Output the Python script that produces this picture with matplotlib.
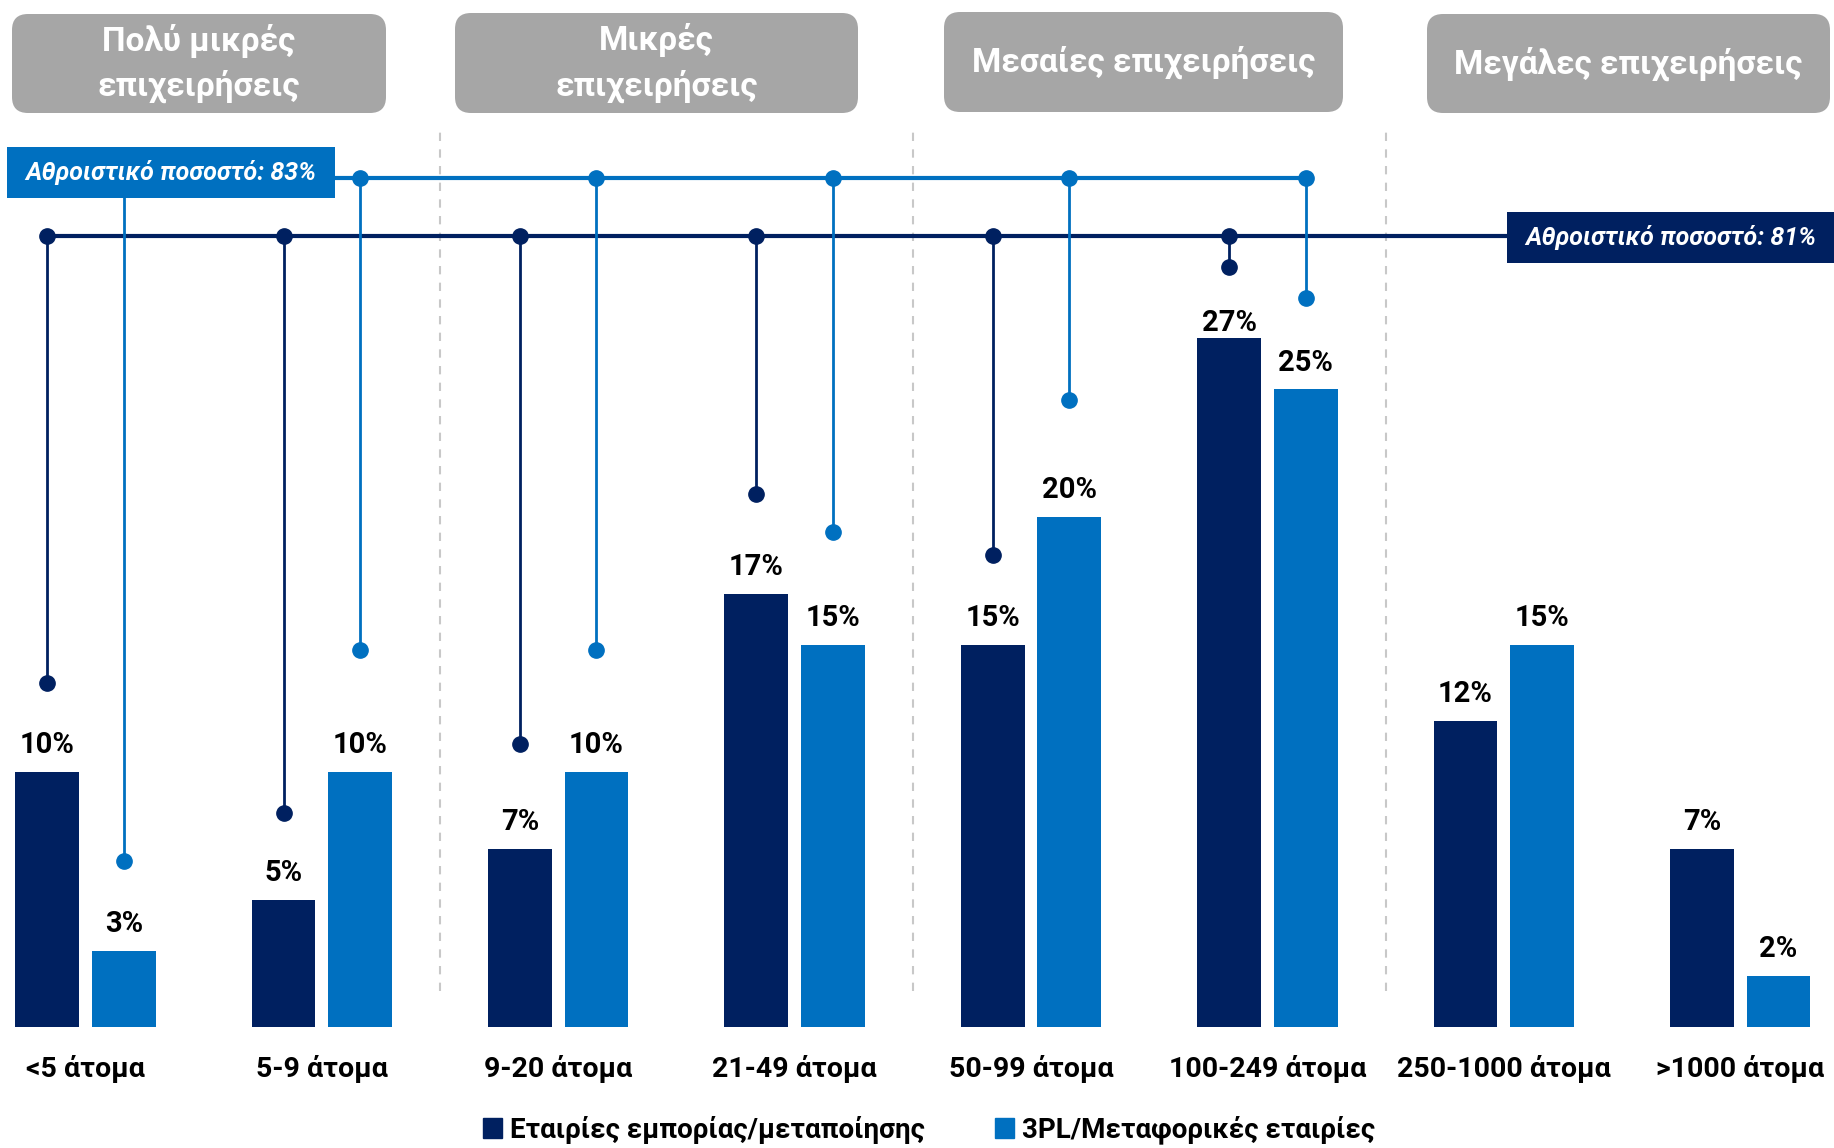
import numpy as np
import matplotlib.pyplot as plt
from matplotlib.patches import FancyBboxPatch, Rectangle

plt.rcParams['font.family'] = ['Roboto', 'DejaVu Sans']

# Company size groups and shares per company type (%)
categories = ['<5 άτομα', '5-9 άτομα', '9-20 άτομα', '21-49 άτομα',
              '50-99 άτομα', '100-249 άτομα', '250-1000 άτομα', '>1000 άτομα']
trade = [10, 5, 7, 17, 15, 27, 12, 7]
logistics = [3, 10, 10, 15, 20, 25, 15, 2]
series_names = ['Εταιρίες εμπορίας/μεταποίησης', '3PL/Μεταφορικές εταιρίες']

# lollipop heads for the groups that make up the cumulative share
trade_heads = [13.5, 8.4, 11.1, 20.9, 18.5, 29.8]
logistics_heads = [6.5, 14.8, 14.8, 19.4, 24.6, 28.6]
trade_rail = 31.0
logistics_rail = 33.3

segments = ['Πολύ μικρές\nεπιχειρήσεις', 'Μικρές\nεπιχειρήσεις',
            'Μεσαίες επιχειρήσεις', 'Μεγάλες επιχειρήσεις']

NAVY = '#002060'
BLUE = '#0070C0'
GREY = '#A6A6A6'

W, H = 1834, 1148
step = 236.4      # px between group centres
unit = 25.5       # px per percentage point
x0 = 85.4         # px of the first group centre
base = 1027       # px (from top) of the bar baseline

fig = plt.figure(figsize=(W / 100, H / 100), dpi=100)
ax = fig.add_axes([0, (H - base) / H, 1, base / H])
ax.set_xlim(-x0 / step, (W - x0) / step)
ax.set_ylim(0, base / unit)
for s in ax.spines.values():
    s.set_visible(False)
ax.set_yticks([])

x = np.arange(len(categories))
bw, off = 0.27, 0.162
ax.bar(x - off, trade, bw, color=NAVY, zorder=3)
ax.bar(x + off, logistics, bw, color=BLUE, zorder=3)

ax.set_xticks(x, categories)
ax.tick_params(axis='x', length=0, pad=20)
for lab in ax.get_xticklabels():
    lab.set_fontweight('bold')
    lab.set_fontsize(20.5)

# value labels, kept below the lollipop heads
heads_t = trade_heads + [None] * (len(x) - len(trade_heads))
heads_l = logistics_heads + [None] * (len(x) - len(logistics_heads))
for xs, vals, heads in [(x - off, trade, heads_t), (x + off, logistics, heads_l)]:
    for xi, v, hd in zip(xs, vals, heads):
        y = v + 1.05
        if hd is not None:
            y = min(y, hd - 2.2)
        ax.text(xi, y, f'{v}%', ha='center', va='center', fontsize=21,
                fontweight='bold', zorder=5)

# group separators
ax.vlines([1.5, 3.5, 5.5], 1.4, 35.1, colors='#C8C8C8', linestyles=(0, (4, 4)),
          lw=1.5, zorder=1)

# cumulative brackets
n = len(trade_heads)
xl = ax.get_xlim()
ax.plot([x[0] - off, xl[1]], [trade_rail] * 2, color=NAVY, lw=3, zorder=4,
        solid_capstyle='butt')
ax.plot([x[0] + off, x[n - 1] + off], [logistics_rail] * 2, color=BLUE, lw=3,
        zorder=4, solid_capstyle='butt')
for i in range(n):
    xt = x[i] - off
    ax.plot([xt, xt], [trade_heads[i], trade_rail], color=NAVY, lw=2, zorder=4)
    ax.plot([xt, xt], [trade_heads[i], trade_rail], 'o', color=NAVY, ms=11, zorder=4)
    xb = x[i] + off
    ax.plot([xb, xb], [logistics_heads[i], logistics_rail], color=BLUE, lw=2, zorder=4)
    ax.plot([xb, xb], [logistics_heads[i], logistics_rail], 'o', color=BLUE, ms=11,
            zorder=4)

# overlay in pixel units for header boxes and total tags
ov = fig.add_axes([0, 0, 1, 1], zorder=10)
ov.set_xlim(0, W)
ov.set_ylim(H, 0)
ov.axis('off')

header_boxes = [(12, 14, 374, 99), (455, 13, 403, 100), (944, 12, 399, 100),
                (1427, 14, 403, 99)]
for (bx, by, bwid, bh), txt in zip(header_boxes, segments):
    ov.add_patch(FancyBboxPatch((bx, by), bwid, bh,
                                boxstyle='round,pad=0,rounding_size=16',
                                fc=GREY, ec='none'))
    ov.text(bx + bwid / 2, by + bh / 2, txt, ha='center', va='center',
            color='white', fontsize=24, fontweight='bold', linespacing=1.45)

tags = [((7, 147, 328, 51), BLUE, sum(logistics[:n])),
        ((1507, 212, 327, 51), NAVY, sum(trade[:n]))]
for (bx, by, bwid, bh), col, total in tags:
    ov.add_patch(Rectangle((bx, by), bwid, bh, fc=col, ec='none'))
    ov.text(bx + bwid / 2, by + bh / 2, f'Αθροιστικό ποσοστό: {total}%',
            ha='center', va='center', color='white', fontsize=18,
            fontweight='bold', fontstyle='italic')

handles = [Rectangle((0, 0), 1, 1, color=NAVY), Rectangle((0, 0), 1, 1, color=BLUE)]
fig.legend(handles, series_names, loc='center', bbox_to_anchor=(929 / W, 1 - 1130 / H),
           ncol=2, frameon=False, handlelength=0.7, handleheight=0.7,
           handletextpad=0.3, columnspacing=2.5,
           prop={'weight': 'bold', 'size': 20})

fig.savefig('out.png', dpi=100)
